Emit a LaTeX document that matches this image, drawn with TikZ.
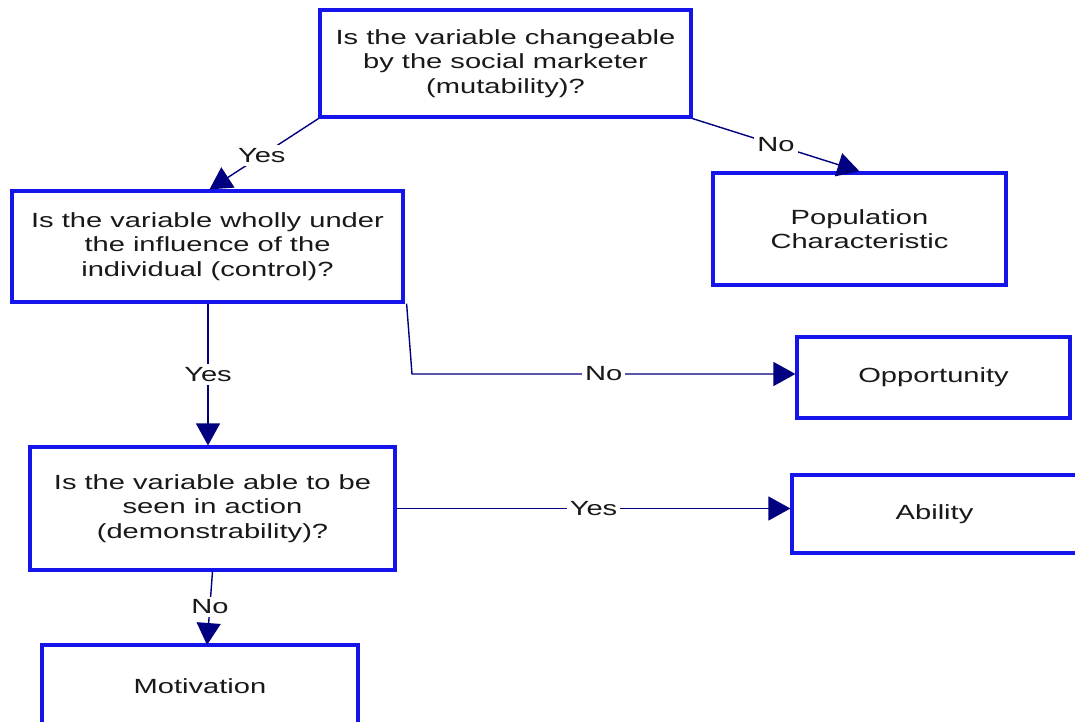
\documentclass[tikz,border=0pt]{standalone}
\usepackage{fontspec}
\setmainfont{Liberation Sans}[FakeStretch=1.42]
\usetikzlibrary{arrows.meta}
\definecolor{boxblue}{RGB}{20,20,235}
\definecolor{linenavy}{RGB}{0,0,128}
\begin{document}
\begin{tikzpicture}[x=1pt,y=-1pt,
  box/.style={draw=boxblue,line width=3.2pt,fill=white,rectangle,align=center,
    inner sep=0pt,font=\fontsize{20.5}{24.5}\selectfont,text=black!90},
  conn/.style={draw=linenavy,line width=1.4pt,-{Triangle[length=22pt,width=24pt]},color=linenavy},
  lab/.style={fill=white,inner sep=3pt,font=\fontsize{20.5}{24.5}\selectfont,text=black!90}]
\useasboundingbox (0,0) rectangle (1075,722);
\clip (0,0) rectangle (1075,722);
\node[box,minimum width=371pt,minimum height=107pt] (b1) at (505.5,63.5)
  {Is the variable changeable\\by the social marketer\\(mutability)?};
\node[box,minimum width=391pt,minimum height=111pt] (b2) at (207.5,246.5)
  {Is the variable wholly under\\the influence of the\\individual (control)?};
\node[box,minimum width=293pt,minimum height=112pt] (b3) at (859.5,229)
  {Population\\Characteristic};
\node[box,minimum width=273pt,minimum height=81pt] (b4) at (933.5,377.5)
  {Opportunity};
\node[box,minimum width=365pt,minimum height=123pt] (b6) at (212.5,508.5)
  {Is the variable able to be\\seen in action\\(demonstrability)?};
\node[box,minimum width=293pt,minimum height=78pt,text width=293pt] (b5) at (938.5,514)
  {Ability\hspace*{8pt}};
\node[box,minimum width=316pt,minimum height=82pt] (b7) at (200,686)
  {Motivation};
\coordinate (k1) at (412,374);
\coordinate (m1) at (207,645);
\draw[conn] (b1.south west) -- node[lab,pos=0.52]{Yes} ([xshift=2pt]b2.north);
\draw[conn] (b1.south east) -- node[lab,pos=0.5]{No} (b3.north);
\draw[conn] ([xshift=2pt]b2.south east) -- (k1) -- node[lab,pos=0.5]{No} (b4.west |- k1);
\draw[conn] ([xshift=0.5pt]b2.south) -- node[lab,pos=0.5]{Yes} ([xshift=0.5pt]b2.south |- b6.north);
\draw[conn] (b6.east) -- node[lab,pos=0.5]{Yes} (b6.east -| b5.west);
\draw[conn] (b6.south) -- node[lab,pos=0.48]{No} (m1);
\end{tikzpicture}
\end{document}
